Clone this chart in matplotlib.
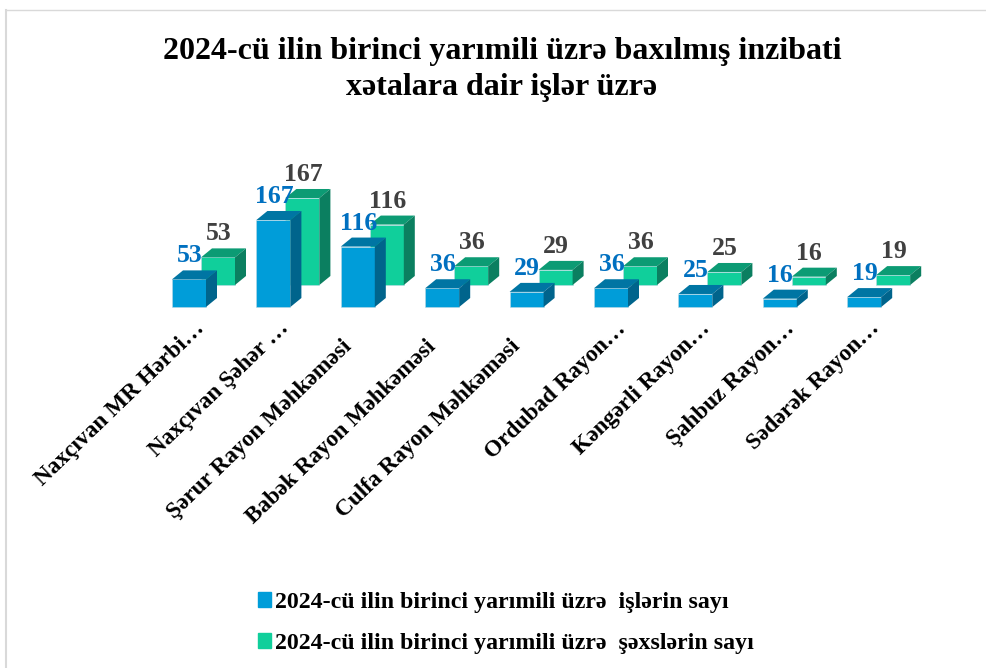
"""
3D-look clustered columns, drawn with plain bars and polygons
"""

import matplotlib
matplotlib.use('Agg')
import matplotlib.pyplot as plt
from matplotlib.patches import Patch
from matplotlib.lines import Line2D

plt.rcParams['font.family'] = ['Liberation Serif', 'DejaVu Serif']

title = '2024-cü ilin birinci yarımili üzrə baxılmış inzibati\nxətalara dair işlər üzrə'
categories = ['Naxçıvan MR Hərbi…', 'Naxçıvan Şəhər …', 'Şərur Rayon Məhkəməsi',
              'Babək Rayon Məhkəməsi', 'Culfa Rayon Məhkəməsi', 'Ordubad Rayon…',
              'Kəngərli Rayon…', 'Şahbuz Rayon…', 'Sədərək Rayon…']
cases = [53, 167, 116, 36, 29, 36, 25, 16, 19]
persons = [53, 167, 116, 36, 29, 36, 25, 16, 19]
legend_labels = ['2024-cü ilin birinci yarımili üzrə  işlərin sayı',
                 '2024-cü ilin birinci yarımili üzrə  şəxslərin sayı']

# px per unit, the whole figure is one axes
px_x = 84.4
px_y = 0.521
width = 34 / px_x
depth_x = 11 / px_x
depth_y = 9 / px_y
shift_x = 29 / px_x
shift_y = 22 / px_y
label_gap = 23.5 / px_y


def bar3d(ax, x, y0, h, front, top, side):
    left = x - width / 2
    right = x + width / 2
    y1 = y0 + h
    ax.bar(x, h, width, bottom=y0, color=front, edgecolor='#bcd9e4', linewidth=0.4)
    ax.fill([left, right, right + depth_x, left + depth_x],
            [y1, y1, y1 + depth_y, y1 + depth_y], color=top, linewidth=0)
    ax.fill([right, right + depth_x, right + depth_x, right],
            [y0, y0 + depth_y, y1 + depth_y, y1], color=side, linewidth=0)


figure = plt.figure(figsize=(9.86, 6.68), dpi=100)
axes = figure.add_axes([0, 0, 1, 1])
axes.set_xlim(-189 / px_x, (986 - 189) / px_x)
axes.set_ylim((307 - 668) / px_y, 307 / px_y)
axes.axis('off')

for i, name in enumerate(categories):
    # green sits behind and up, blue in front
    bar3d(axes, i + shift_x, shift_y, persons[i], '#10cf9b', '#0c9b74', '#0b7f60')
    bar3d(axes, i, 0, cases[i], '#009dd9', '#0075a3', '#00648c')
    axes.text(i + 0.005, cases[i] + label_gap, str(cases[i]), color='#0070c0', fontsize=18.5,
              fontweight='bold', ha='center', va='center')
    axes.text(i + shift_x + 0.005, shift_y + persons[i] + label_gap, str(persons[i]), color='#404040',
              fontsize=18.5, fontweight='bold', ha='center', va='center')
    # labels that were not cut off end a bit lower and further left
    if name.endswith('…'):
        label_x, label_y = i + 0.055, -21
    else:
        label_x, label_y = i - 0.2, -55
    axes.text(label_x, label_y, name, rotation=44, rotation_mode='anchor', ha='right', va='top',
              fontsize=16.8, fontweight='bold', color='black')

figure.text(0.509, 0.896, title, ha='center', va='center', fontsize=23, fontweight='bold',
            linespacing=1.36, color='black')

handles = [Patch(color='#009dd9'), Patch(color='#10cf9b')]
figure.legend(handles, legend_labels, loc='center left', bbox_to_anchor=(0.2617, 0.0674), frameon=False,
              handlelength=0.55, handleheight=0.55, handletextpad=0.17, borderpad=0, borderaxespad=0,
              labelspacing=0.84, prop={'weight': 'bold', 'size': 17.2})

# chart frame left over from the screenshot
figure.add_artist(Line2D([6 / 986, 6 / 986], [0, 1 - 10 / 668], color='#d9d9d9', linewidth=1.5))
figure.add_artist(Line2D([6 / 986, 1], [1 - 10 / 668, 1 - 10 / 668], color='#d9d9d9', linewidth=1))

plt.savefig('out.png', dpi=100)
